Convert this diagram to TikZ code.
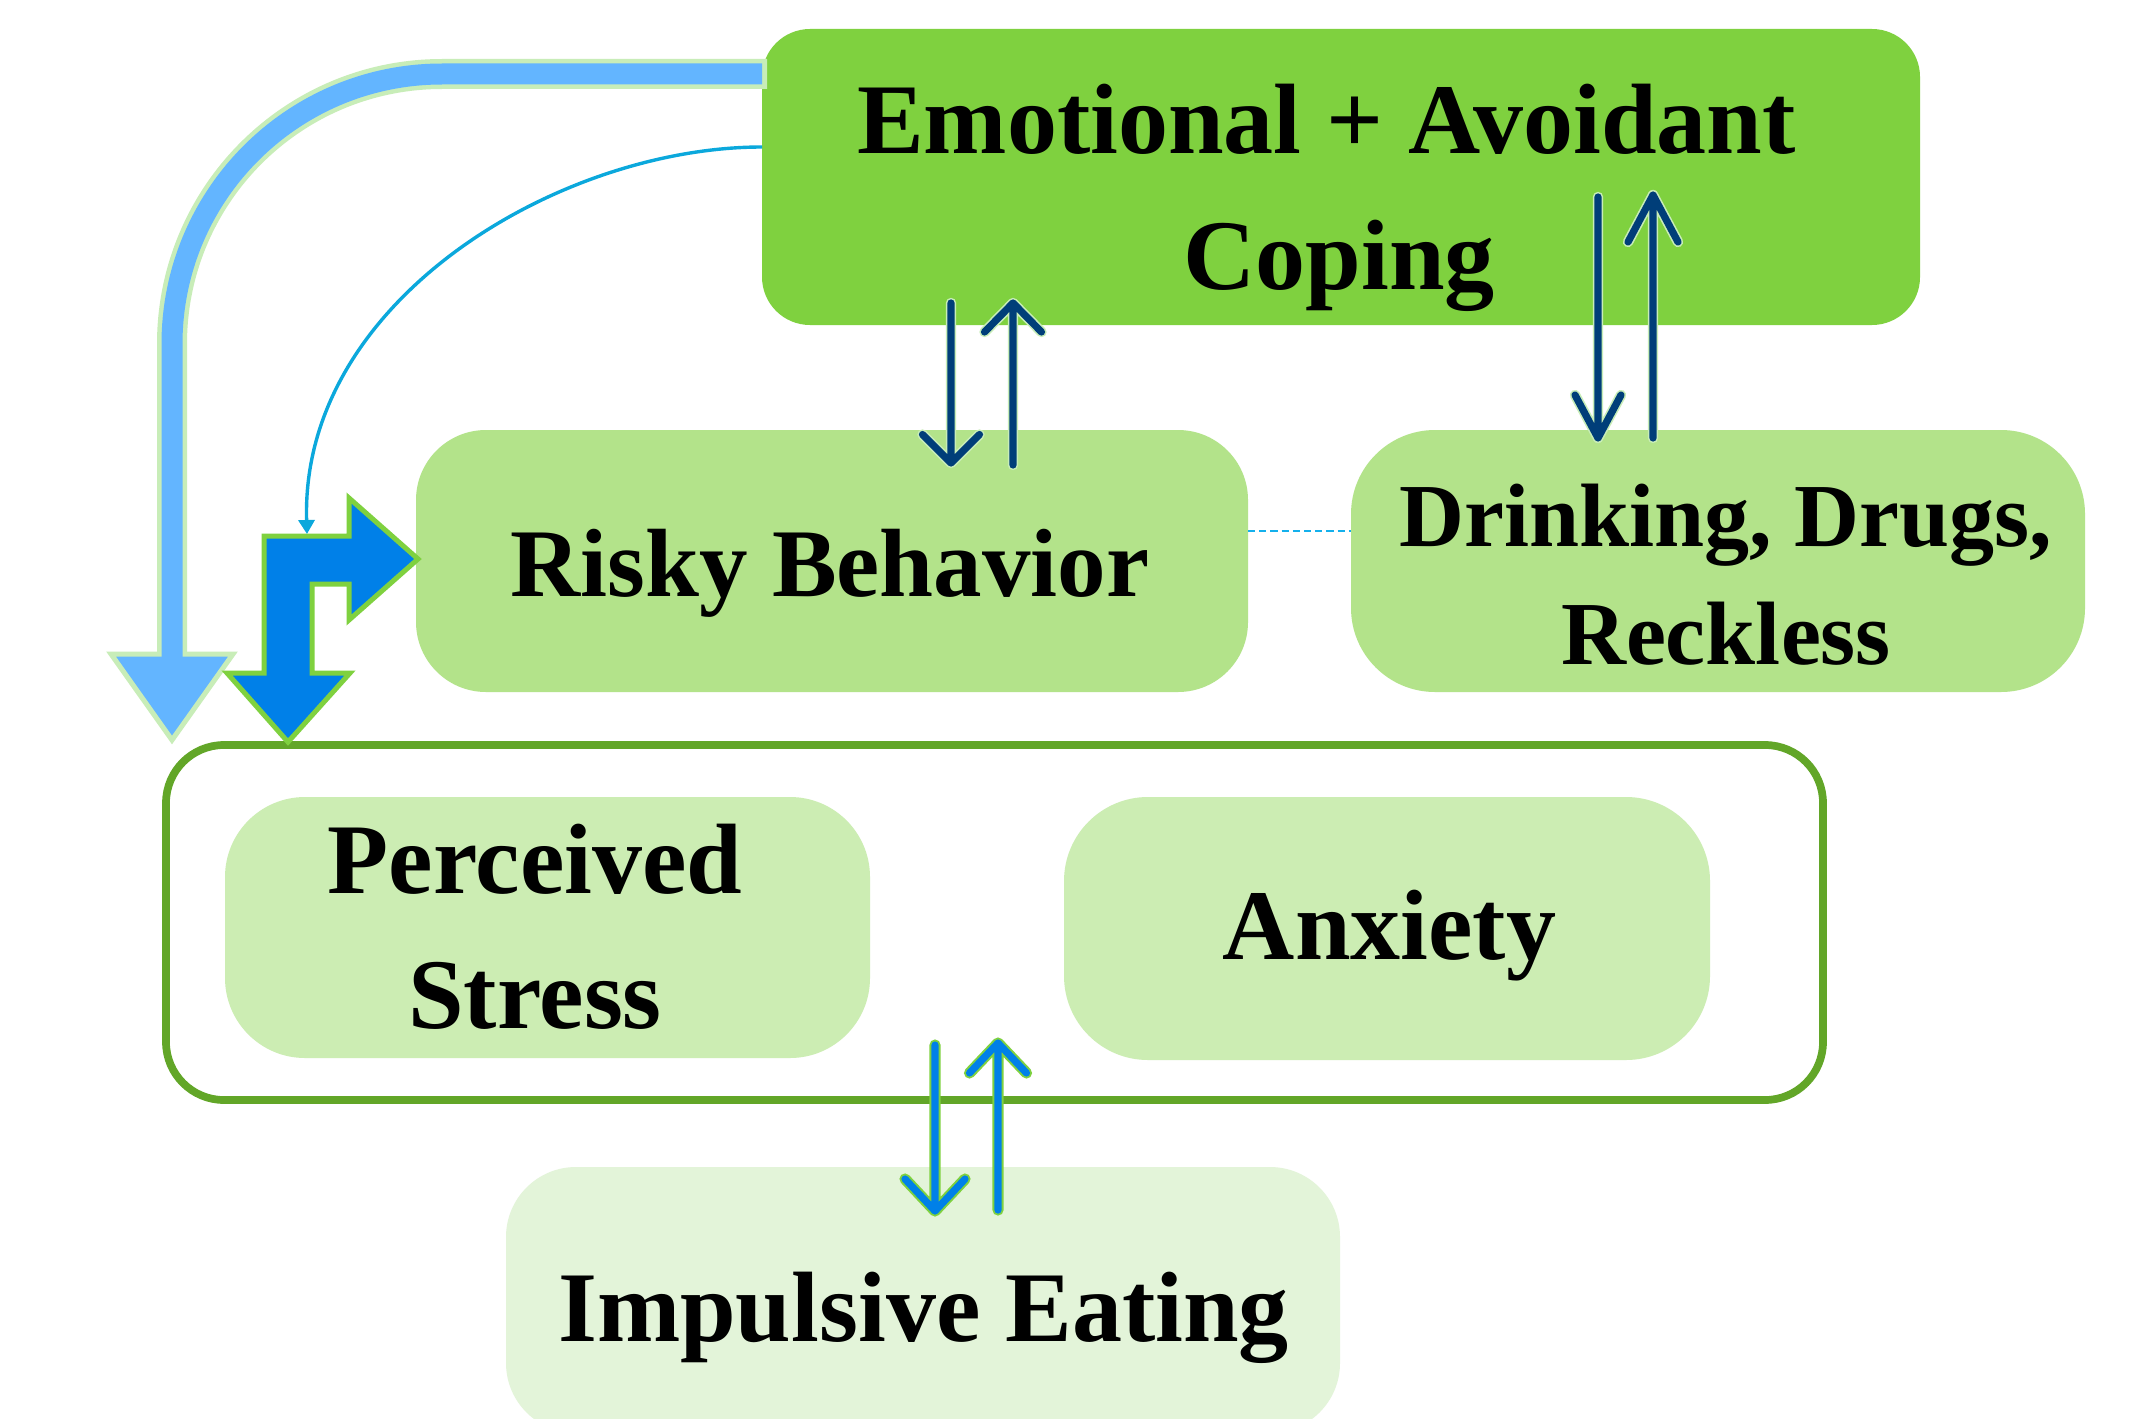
\documentclass[tikz,border=0pt]{standalone}
\usepackage{fontspec}
\setmainfont{Liberation Serif}
\usetikzlibrary{calc,arrows.meta}
\definecolor{emoG}{RGB}{127,209,63}
\definecolor{midG}{RGB}{179,227,138}
\definecolor{palG}{RGB}{204,237,179}
\definecolor{faintG}{RGB}{227,244,217}
\definecolor{frameG}{RGB}{98,166,40}
\definecolor{haloG}{RGB}{200,237,184}
\definecolor{skyB}{RGB}{99,181,255}
\definecolor{deepB}{RGB}{0,128,232}
\definecolor{navyB}{RGB}{0,62,121}
\definecolor{cyanB}{RGB}{11,168,220}
\definecolor{dashB}{RGB}{20,176,236}
% #1 start, #2 tip, #3 arm dx, #4 arm dy, #5 core colour, #6 halo colour, #7 halo width
\newcommand\barbarrow[7]{%
  \draw[#6,line width=#7,line cap=round,line join=round] (#1) -- (#2) ($(#2)+(-#3,#4)$) -- (#2) -- ($(#2)+(#3,#4)$);
  \draw[#5,line width=3.6pt,line cap=round,line join=round] (#1) -- (#2) ($(#2)+(-#3,#4)$) -- (#2) -- ($(#2)+(#3,#4)$);
}
\begin{document}
\begin{tikzpicture}[x=0.5pt,y=-0.5pt,
  nbox/.style={rectangle,inner sep=0pt,outer sep=0pt,draw=none},
  lbl/.style={inner sep=0pt,anchor=base,font=\fontsize{50}{60}\selectfont\bfseries},
  lblsmall/.style={lbl,font=\fontsize{45}{54}\selectfont\bfseries},
]
\useasboundingbox (0,0) rectangle (2139,1418);
\clip (0,0) rectangle (2139,1418);
\fill[white] (0,0) rectangle (2139,1418);

% outer frame
\node[nbox,draw=frameG,line width=3.85pt,rounded corners=29pt,minimum width=828.5pt,minimum height=177.5pt] (cont) at (994.5,922.5) {};

% boxes
\node[nbox,fill=emoG,rounded corners=24pt,minimum width=579pt,minimum height=148pt] (emo) at (1341,177) {};
\node[nbox,fill=midG,rounded corners=35pt,minimum width=416pt,minimum height=131pt] (risky) at (832,561) {};
\node[nbox,fill=midG,rounded corners=42pt,minimum width=367pt,minimum height=131pt] (drink) at (1718,561) {};
\node[nbox,fill=palG,rounded corners=40pt,minimum width=322.5pt,minimum height=130.5pt] (perc) at (547.5,927.5) {};
\node[nbox,fill=palG,rounded corners=42pt,minimum width=323pt,minimum height=131.5pt] (anx) at (1387,928.5) {};
\node[nbox,fill=faintG,rounded corners=35pt,minimum width=417pt,minimum height=133pt] (imp) at (923,1300) {};

% texts
\node[lbl] (emoA) at (1326.5,154) {Emotional + Avoidant};
\node[lbl] (emoB) at (1339,289) {Coping};
\node[lbl,font=\fontsize{48.5}{58}\selectfont\bfseries] (riskyA) at (830,596) {Risky Behavior};
\node[lblsmall] (drinkA) at (1726,546) {Drinking, Drugs,};
\node[lblsmall] (drinkB) at (1726,664) {Reckless};
\node[lbl] (percA) at (535,893) {Perceived};
\node[lbl] (percB) at (535,1028) {Stress};
\node[lbl] (anxA) at (1389.5,959) {Anxiety};
\node[lbl] (impA) at (923.5,1341) {Impulsive Eating};

% big light-blue arrow from Emotional to the frame
\coordinate (lbS) at ($(emo.west)+(5,-103)$);
\coordinate (lbI) at ($(emo.west)+(0,-103)$);
\coordinate (lbE) at ($(cont.north west)+(6,0)$);
\draw[haloG,line width=15pt,rounded corners=135pt] (lbS) -| ($(lbE)+(0,-93)$);
\filldraw[fill=skyB,draw=haloG,line width=2.5pt,line join=miter] ($(lbE)+(-61,-91)$) -- ($(lbE)+(61,-91)$) -- ($(lbE)+(0,-5)$) -- cycle;
\draw[skyB,line width=10.5pt,rounded corners=135pt] (lbI) -| ($(lbE)+(0,-88)$);

% bent arrow (down to frame, right to Risky Behavior)
\filldraw[fill=deepB,draw=emoG,line width=2.5pt,line join=miter]
  (264,536) -- (349,536) -- (349,498) -- (418,559) -- (349,620) -- (349,584) -- (312,584)
  -- (312,673) -- (350,673) -- (288,742) -- (227,673) -- (264,673) -- cycle;
\coordinate (bentTop) at (307,534);

% thin cyan curved arrow
\draw[cyanB,line width=1.7pt,-{Triangle[length=7pt,width=8pt]}]
  ($(emo.west)+(0,-30)$) .. controls (560,147) and (300,300) .. (bentTop);

% dashed link
\draw[dashB,line width=1pt,dash pattern=on 3.6pt off 2pt] ($(risky.east)+(0,-30)$) -- ($(drink.west)+(0,-30)$);

% double arrows
\coordinate (a1s) at ($(emo.south)+(-390,-22)$);
\coordinate (a1t) at ($(risky.north)+(119,33)$);
\coordinate (a2s) at ($(risky.north)+(181,35)$);
\coordinate (a2t) at ($(emo.south)+(-328,-22)$);
\coordinate (b1s) at ($(emo.south)+(257,-128)$);
\coordinate (b1t) at ($(drink.north)+(-120,8)$);
\coordinate (b2s) at ($(drink.north)+(-65,8)$);
\coordinate (b2t) at ($(emo.south)+(312,-130)$);
\coordinate (c1s) at ($(cont.south)+(-59.5,-55)$);
\coordinate (c1t) at ($(imp.north)+(12,44)$);
\coordinate (c2s) at ($(imp.north)+(75,43)$);
\coordinate (c2t) at ($(cont.south)+(3.5,-57)$);

\barbarrow{a1s}{a1t}{28.5}{-28.5}{navyB}{haloG}{5.2pt}
\barbarrow{a2s}{a2t}{28.5}{29}{navyB}{haloG}{5.2pt}
\barbarrow{b1s}{b1t}{23}{-43}{navyB}{haloG}{5.2pt}
\barbarrow{b2s}{b2t}{25}{47}{navyB}{haloG}{5.2pt}
\barbarrow{c1s}{c1t}{30}{-32}{deepB}{emoG}{5.6pt}
\barbarrow{c2s}{c2t}{28.5}{30}{deepB}{emoG}{5.6pt}
\end{tikzpicture}
\end{document}
